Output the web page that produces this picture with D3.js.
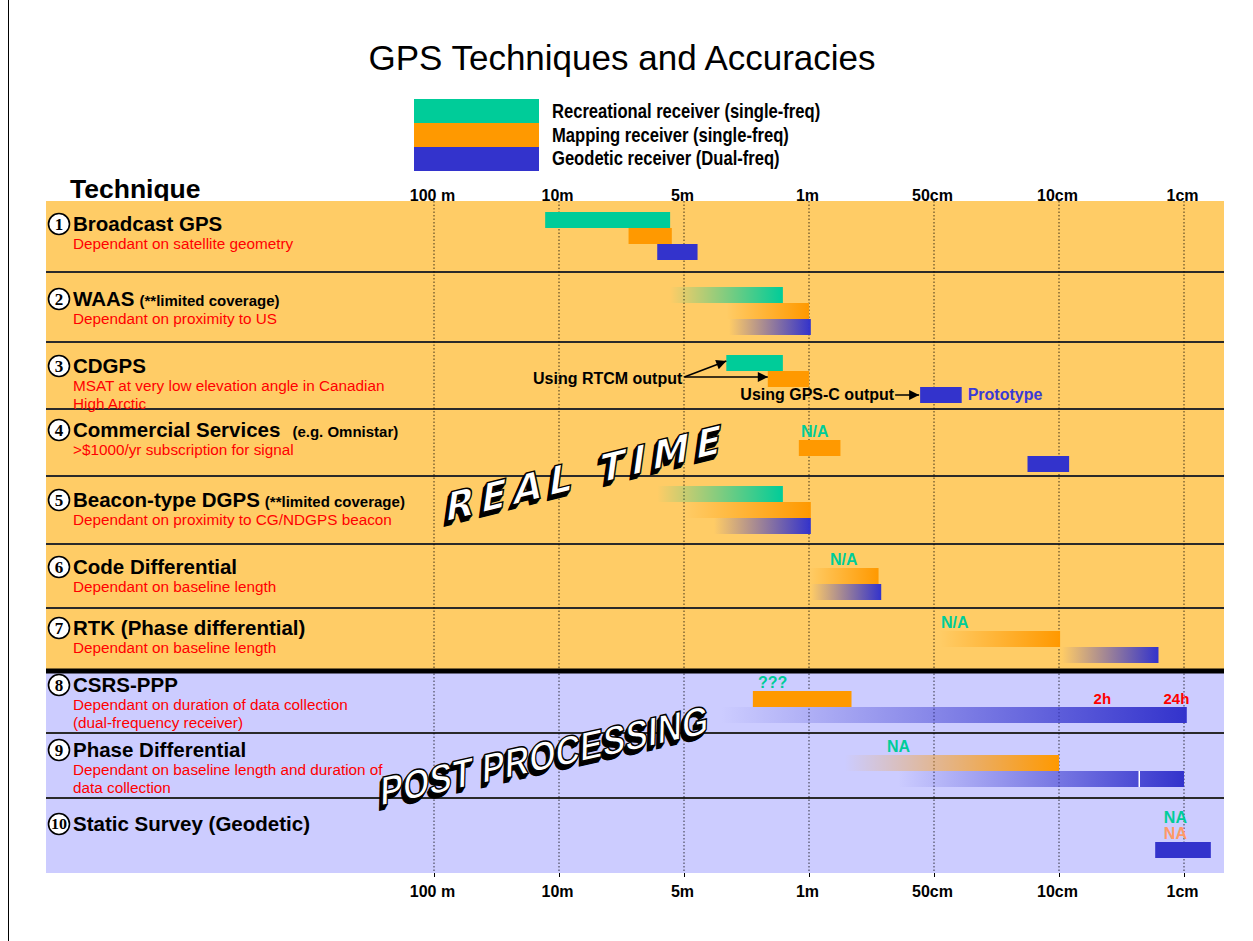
<!DOCTYPE html>
<html>
<head>
<meta charset="utf-8">
<script src="https://cdn.jsdelivr.net/npm/d3@7"></script>
<style>
  body { margin: 0; background: #fff; }
  svg { display: block; font-family: "Liberation Sans", Arial, sans-serif; }
</style>
</head>
<body>
<svg id="chart" width="1253" height="941"></svg>
<script>
// accuracy ticks in metres (the slide uses an uneven log axis)
const tickValues = [100, 10, 5, 1, 0.5, 0.1, 0.01];
const tickLabels = ["100 m", "10m", "5m", "1m", "50cm", "10cm", "1cm"];

const receivers = [
    "Recreational receiver (single-freq)",
    "Mapping receiver (single-freq)",
    "Geodetic receiver (Dual-freq)"
];

const techniques = [
    "Broadcast GPS", "WAAS", "CDGPS", "Commercial Services", "Beacon-type DGPS",
    "Code Differential", "RTK (Phase differential)", "CSRS-PPP", "Phase Differential",
    "Static Survey (Geodetic)"
];
const qualifiers = ["", "(**limited coverage)", "", "(e.g. Omnistar)", "(**limited coverage)", "", "", "", "", ""];
const remarks = [
    ["Dependant on satellite geometry"],
    ["Dependant on proximity to US"],
    ["MSAT at very low elevation angle in Canadian", "High Arctic"],
    [">$1000/yr subscription for signal"],
    ["Dependant on proximity to CG/NDGPS beacon"],
    ["Dependant on baseline length"],
    ["Dependant on baseline length"],
    ["Dependant on duration of data collection", "(dual-frequency receiver)"],
    ["Dependant on baseline length and duration of", "data collection"],
    []
];

// accuracy range per technique / receiver (metres); fade = open-ended range
const ranges = [
    { row: 0, rcv: 0, from: 12.9, to: 5.4, fade: false },
    { row: 0, rcv: 1, from: 6.8, to: 5.35, fade: false },
    { row: 0, rcv: 2, from: 5.8, to: 4.2, fade: false },
    { row: 1, rcv: 0, from: 5.4, to: 1.4, fade: true },
    { row: 1, rcv: 1, from: 2.9, to: 1.0, fade: true },
    { row: 1, rcv: 2, from: 2.8, to: 0.99, fade: true },
    { row: 2, rcv: 0, from: 2.9, to: 1.4, fade: false },
    { row: 2, rcv: 1, from: 1.7, to: 1.0, fade: false },
    { row: 2, rcv: 2, from: 0.54, to: 0.35, fade: false },
    { row: 3, rcv: 1, from: 1.14, to: 0.84, fade: false },
    { row: 3, rcv: 2, from: 0.15, to: 0.083, fade: false },
    { row: 4, rcv: 0, from: 5.8, to: 1.4, fade: true },
    { row: 4, rcv: 1, from: 5.0, to: 0.99, fade: true },
    { row: 4, rcv: 2, from: 3.4, to: 0.99, fade: true },
    { row: 5, rcv: 1, from: 1.0, to: 0.68, fade: true },
    { row: 5, rcv: 2, from: 0.99, to: 0.67, fade: true },
    { row: 6, rcv: 1, from: 0.46, to: 0.098, fade: true },
    { row: 6, rcv: 2, from: 0.095, to: 0.016, fade: true },
    { row: 7, rcv: 1, from: 2.06, to: 0.79, fade: false },
    { row: 7, rcv: 2, from: 3.1, to: 0.0095, fade: true },
    { row: 8, rcv: 1, from: 0.82, to: 0.1, fade: true },
    { row: 8, rcv: 2, from: 0.61, to: 0.01, fade: true },
    { row: 9, rcv: 2, from: 0.017, to: 0.0061, fade: false }
];

// "not available" style notes, placed at an accuracy value
const notes = [
    { row: 3, rcv: 0, value: 1.11, text: "N/A" },
    { row: 5, rcv: 0, value: 0.89, text: "N/A" },
    { row: 6, rcv: 0, value: 0.457, text: "N/A" },
    { row: 7, rcv: 0, value: 1.93, text: "???" },
    { row: 8, rcv: 0, value: 0.649, text: "NA" },
    { row: 9, rcv: 0, value: 0.0145, text: "NA" },
    { row: 9, rcv: 1, value: 0.0145, text: "NA" }
];

// CSRS-PPP session lengths
const durationMarks = [
    { label: "2h", value: 0.045 },
    { label: "24h", value: 0.0115 }
];
const phaseSplits = [0.0228];

// ---- layout ----
const svg = d3.select("#chart");
const fontStack = '"Liberation Sans", Arial, sans-serif';
const panelLeft = 46, panelRight = 1224;
const rowEdges = [201, 272, 342, 409, 476, 544, 608, 671, 733, 798, 873];
const laneTop = [212, 287, 355, 424, 486, 552, 615, 675, 739, 810];
const titleY = [231, 306, 373, 437, 507, 574, 635, 692, 757, 831];
const laneH = 16;
const colors = ["#00cc99", "#ff9900", "#3333cc"];
const noteColors = ["#00cc99", "#ff9966"];

const x = d3.scaleLog()
    .domain(tickValues)
    .range(tickValues.map((d, i) => 434 + i * 125));

const defs = svg.append("defs");

// frame line on the left
svg.append("line").attr("x1", 8.5).attr("x2", 8.5).attr("y1", 0).attr("y2", 941)
    .attr("stroke", "#000").attr("stroke-width", 1);

// title
svg.append("text").attr("x", 622).attr("y", 70).attr("text-anchor", "middle")
    .attr("font-size", 35).text("GPS Techniques and Accuracies");

// legend (narrow bold text, squeezed horizontally)
const legend = svg.append("g");
receivers.forEach((r, i) => {
    legend.append("rect").attr("x", 414).attr("y", 99 + i * 24).attr("width", 125).attr("height", 24)
        .attr("fill", colors[i]);
    legend.append("text")
        .attr("transform", `translate(552,${118 + i * 23.5}) scale(0.83,1)`)
        .attr("font-weight", "bold").attr("font-size", 20).text(r);
});

svg.append("text").attr("x", 70).attr("y", 198).attr("font-weight", "bold")
    .attr("font-size", 26.5).text("Technique");

// row backgrounds
svg.append("g").selectAll("rect")
    .data(d3.range(techniques.length))
    .join("rect")
    .attr("x", panelLeft).attr("width", panelRight - panelLeft)
    .attr("y", i => rowEdges[i]).attr("height", i => rowEdges[i + 1] - rowEdges[i])
    .attr("fill", i => i < 7 ? "#ffcc66" : "#ccccff");

// separators
svg.append("g").selectAll("line")
    .data(rowEdges.slice(1, -1))
    .join("line")
    .attr("x1", panelLeft).attr("x2", panelRight)
    .attr("y1", d => d).attr("y2", d => d)
    .attr("stroke", (d, i) => i === 6 ? "#000" : "#2a2a2a")
    .attr("stroke-width", (d, i) => i === 6 ? 5 : 2);

// dotted gridlines
svg.append("g").selectAll("line")
    .data(tickValues)
    .join("line")
    .attr("x1", d => x(d)).attr("x2", d => x(d))
    .attr("y1", rowEdges[0]).attr("y2", rowEdges[rowEdges.length - 1])
    .attr("stroke", "#000").attr("stroke-width", 1)
    .attr("stroke-dasharray", "1.5,2").attr("opacity", 0.75);

// axes
const styleAxis = g => {
    g.select(".domain").remove();
    g.attr("font-family", fontStack).attr("font-size", 16).attr("font-weight", "bold");
    g.selectAll("text").attr("dx", -2);
};
svg.append("g").attr("transform", `translate(0,${rowEdges[0]})`)
    .call(d3.axisTop(x).tickValues(tickValues).tickFormat((d, i) => tickLabels[i]).tickSize(0).tickPadding(0))
    .call(styleAxis);
svg.append("g").attr("transform", `translate(0,${rowEdges[rowEdges.length - 1]})`)
    .call(d3.axisBottom(x).tickValues(tickValues).tickFormat((d, i) => tickLabels[i]).tickSize(4).tickPadding(9))
    .call(styleAxis);

// technique labels
const labels = svg.append("g");
techniques.forEach((name, i) => {
    const cy = titleY[i] - 7;
    labels.append("circle").attr("cx", 59).attr("cy", cy).attr("r", 10.5)
        .attr("fill", "#fff").attr("stroke", "#000").attr("stroke-width", 1.6);
    const num = labels.append("text").attr("x", 59).attr("y", cy + 6)
        .attr("text-anchor", "middle").attr("font-family", '"Liberation Serif", "Times New Roman", serif')
        .attr("font-weight", "bold").attr("font-size", i === 9 ? 14 : 17).text(i + 1);
    if (i === 9) num.attr("y", cy + 5).attr("textLength", 16).attr("lengthAdjust", "spacingAndGlyphs");

    const t = labels.append("text").attr("x", 73).attr("y", titleY[i])
        .attr("font-weight", "bold").attr("font-size", 20.5).text(name);
    if (qualifiers[i]) {
        t.append("tspan").attr("dx", i === 3 ? 12 : 5).attr("font-size", 15).text(qualifiers[i]);
    }
    remarks[i].forEach((line, j) => {
        labels.append("text").attr("x", 73).attr("y", titleY[i] + 18 + j * 18)
            .attr("fill", "#ff0000").attr("font-size", 15.3).text(line);
    });
});

// bars
ranges.forEach((d, i) => {
    if (!d.fade) return;
    const gr = defs.append("linearGradient").attr("id", "fade" + i);
    gr.append("stop").attr("offset", 0).attr("stop-color", colors[d.rcv]).attr("stop-opacity", 0);
    gr.append("stop").attr("offset", 1).attr("stop-color", colors[d.rcv]).attr("stop-opacity", 1);
});
const barY = d => laneTop[d.row] + d.rcv * laneH;
svg.append("g").selectAll("rect")
    .data(ranges)
    .join("rect")
    .attr("x", d => x(d.from))
    .attr("width", d => x(d.to) - x(d.from))
    .attr("y", barY)
    .attr("height", laneH)
    .attr("fill", (d, i) => d.fade ? `url(#fade${i})` : colors[d.rcv]);

// small white split in the phase-differential geodetic bar
svg.append("g").selectAll("line")
    .data(phaseSplits)
    .join("line")
    .attr("x1", d => x(d)).attr("x2", d => x(d))
    .attr("y1", laneTop[8] + 2 * laneH).attr("y2", laneTop[8] + 3 * laneH)
    .attr("stroke", "#fff").attr("stroke-width", 1.5);

// notes
svg.append("g").selectAll("text")
    .data(notes)
    .join("text")
    .attr("x", d => x(d.value))
    .attr("y", d => laneTop[d.row] + d.rcv * laneH + 13)
    .attr("fill", d => noteColors[d.rcv])
    .attr("font-weight", "bold").attr("font-size", 16)
    .text(d => d.text);

svg.append("g").selectAll("text")
    .data(durationMarks)
    .join("text")
    .attr("x", d => x(d.value)).attr("y", laneTop[7] + 29)
    .attr("text-anchor", "middle").attr("fill", "#ff0000")
    .attr("font-weight", "bold").attr("font-size", 15)
    .text(d => d.label);

// CDGPS annotations
defs.append("marker").attr("id", "arrow").attr("viewBox", "0 0 10 10")
    .attr("refX", 10).attr("refY", 5).attr("markerWidth", 13).attr("markerHeight", 10)
    .attr("markerUnits", "userSpaceOnUse").attr("orient", "auto")
    .append("path").attr("d", "M0,0L10,5L0,10Z").attr("fill", "#000");

const cd = ranges.filter(d => d.row === 2);
const rtcmEnd = x(cd[0].from) - 44;
const note = svg.append("g").attr("font-weight", "bold").attr("font-size", 16);
note.append("text").attr("x", rtcmEnd).attr("y", laneTop[2] + 29).attr("text-anchor", "end").text("Using RTCM output");
[[cd[0], 6], [cd[1], 22]].forEach(([b, dy]) => {
    note.append("line").attr("x1", rtcmEnd + 2).attr("y1", laneTop[2] + 22)
        .attr("x2", x(b.from)).attr("y2", laneTop[2] + dy)
        .attr("stroke", "#000").attr("stroke-width", 1.5).attr("marker-end", "url(#arrow)");
});
const gpscEnd = x(cd[2].from) - 26;
note.append("text").attr("x", gpscEnd).attr("y", laneTop[2] + 45).attr("text-anchor", "end").text("Using GPS-C output");
note.append("line").attr("x1", gpscEnd + 1).attr("y1", laneTop[2] + 40)
    .attr("x2", x(cd[2].from) - 1).attr("y2", laneTop[2] + 40)
    .attr("stroke", "#000").attr("stroke-width", 1.5).attr("marker-end", "url(#arrow)");
note.append("text").attr("x", x(cd[2].to) + 6).attr("y", laneTop[2] + 45)
    .attr("fill", "#3a3ad6").text("Prototype");

// word-art banners
function banner(text, tx, ty, angle, skew, family, size, len, adjust) {
    const g = svg.append("g")
        .attr("transform", `translate(${tx},${ty}) rotate(${angle}) skewX(${skew})`)
        .attr("font-family", family).attr("font-weight", "bold").attr("font-size", size);
    [4, 3, 2, 1].forEach(k => {
        g.append("text").attr("x", -k * 0.7).attr("y", k)
            .attr("textLength", len).attr("lengthAdjust", adjust)
            .attr("fill", "#000").attr("stroke", "#000").attr("stroke-width", 1.2).text(text);
    });
    g.append("text").attr("textLength", len).attr("lengthAdjust", adjust)
        .attr("fill", "#fff").attr("stroke", "#000").attr("stroke-width", 1.4).text(text);
}
banner("REAL TIME", 444, 522, -14, -22, '"DejaVu Sans", sans-serif', 38, 284, "spacing");
banner("POST PROCESSING", 380, 806, -12.5, -14, fontStack, 40, 336, "spacingAndGlyphs");
</script>
</body>
</html>
